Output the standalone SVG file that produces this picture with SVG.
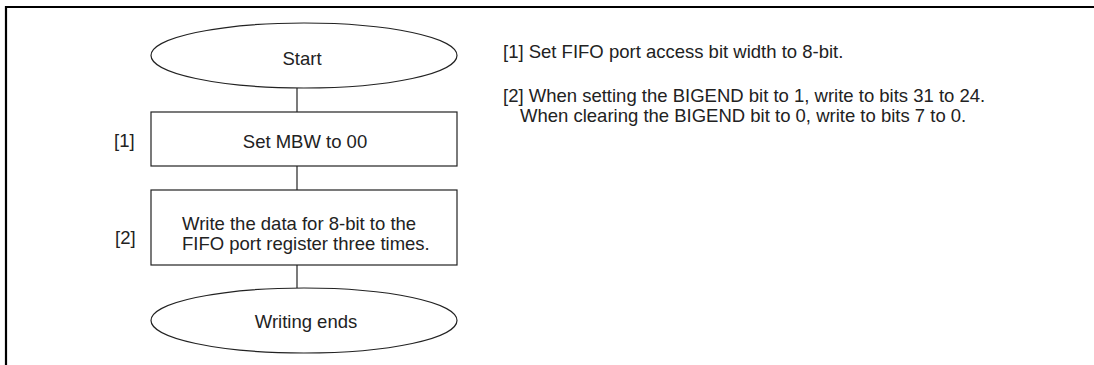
<svg xmlns="http://www.w3.org/2000/svg" width="1094" height="365" viewBox="0 0 1094 365">
<style>
.shape{fill:#fff;stroke:#222;stroke-width:1.2}
.conn{stroke:#222;stroke-width:1.2;fill:none}
text{font-family:"Liberation Sans",Arial,sans-serif;font-size:18.5px;fill:#222}
.c{text-anchor:middle}
</style>
<rect width="1094" height="365" fill="#fff"/>
<path d="M6,365 V7 H1094" fill="none" stroke="#000" stroke-width="2.2"/>
<g id="connectors">
<line class="conn" x1="297" y1="88" x2="297" y2="112"/>
<line class="conn" x1="297" y1="166" x2="297" y2="190"/>
<line class="conn" x1="297" y1="265" x2="297" y2="288"/>
</g>
<g id="start">
<ellipse class="shape" cx="304" cy="55.5" rx="153" ry="32.5"/>
<text class="c" x="302" y="65">Start</text>
</g>
<g id="step1">
<rect class="shape" x="151" y="112" width="306" height="54"/>
<text class="c" x="305" y="147.5">Set MBW to 00</text>
<text x="114" y="146.5">[1]</text>
</g>
<g id="step2">
<rect class="shape" x="151" y="190" width="306" height="75"/>
<text x="182" y="230">Write the data for 8-bit to the</text>
<text x="182" y="250">FIFO port register three times.</text>
<text x="115" y="244">[2]</text>
</g>
<g id="end">
<ellipse class="shape" cx="304" cy="320.5" rx="153" ry="32.5"/>
<text class="c" x="306" y="328">Writing ends</text>
</g>
<g id="notes">
<text x="503" y="57.7">[1] Set FIFO port access bit width to 8-bit.</text>
<text x="503" y="101.7">[2] When setting the BIGEND bit to 1, write to bits 31 to 24.</text>
<text x="520" y="121.7">When clearing the BIGEND bit to 0, write to bits 7 to 0.</text>
</g>
</svg>
